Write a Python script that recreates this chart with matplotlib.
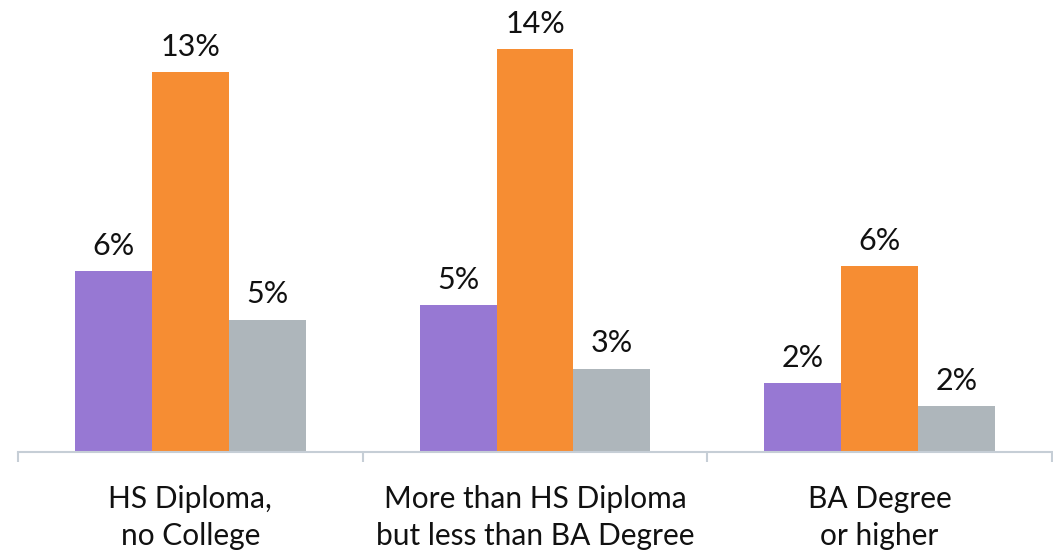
import numpy as np
import matplotlib
matplotlib.use("Agg")
from matplotlib import pyplot as plt

# categories and series
categories = ["HS Diploma,\nno College", "More than HS Diploma\nbut less than BA Degree", "BA Degree\nor higher"]
purple_vals = [6.3, 5.1, 2.4]
orange_vals = [13.2, 14.0, 6.45]
gray_vals = [4.6, 2.9, 1.6]

colors = ["#9778D3", "#F68D33", "#AEB6BB"]
axis_col = "#C6CED6"

plt.rcParams['font.family'] = ['Lato', 'DejaVu Sans']

fig = plt.figure(figsize=(10.53, 5.53), dpi=100)
ax = fig.add_axes([18/1053, 101/553, 1034/1053, 452/553])

x = np.arange(len(categories))
w = 0.223
for i, (vals, c) in enumerate(zip([purple_vals, orange_vals, gray_vals], colors)):
    pos = x + (i - 1) * w
    bars = ax.bar(pos, vals, w, color=c)
    for b, v in zip(bars, vals):
        ax.annotate(f"{round(v)}%", (b.get_x() + b.get_width()/2, v),
                    xytext=(0, 8), textcoords="offset points",
                    ha="center", va="bottom", fontsize=22, color="#111111")

ax.set_xlim(-0.5, 2.5)
ax.set_ylim(0, 15.7)
for s in ["top", "right", "left"]:
    ax.spines[s].set_visible(False)
ax.spines["bottom"].set_color(axis_col)
ax.spines["bottom"].set_linewidth(1.5)
ax.set_yticks([])
ax.set_xticks([-0.5, 0.5, 1.5, 2.5])
ax.set_xticklabels([])
ax.tick_params(axis="x", length=7.5, width=1.5, color=axis_col)
ax.set_xticks(x, minor=True)
ax.set_xticklabels(categories, minor=True, fontsize=21.5, color="#111111", linespacing=1.38)
ax.tick_params(axis="x", which="minor", length=0, pad=24)

fig.savefig("out.png", dpi=100)
